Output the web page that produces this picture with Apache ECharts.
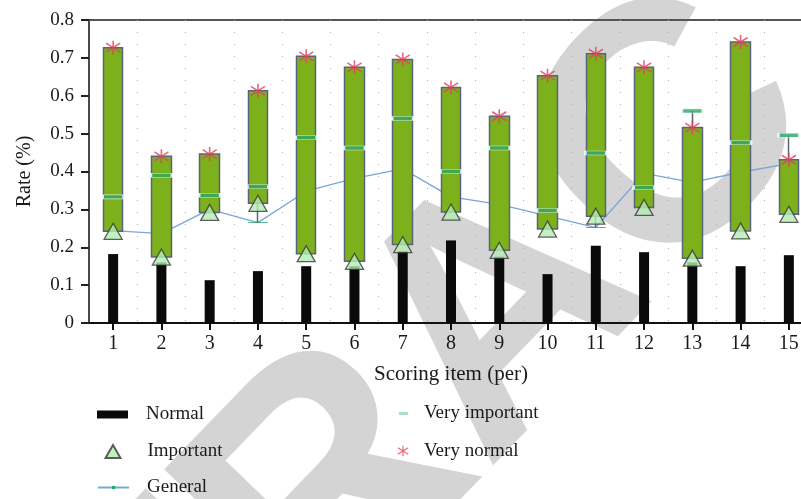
<!DOCTYPE html>
<html>
<head>
<meta charset="utf-8">
<script src="https://cdn.jsdelivr.net/npm/echarts@6/dist/echarts.min.js"></script>
<style>
  html, body { margin: 0; padding: 0; background: #ffffff; overflow: hidden; }
  #chart { width: 813px; height: 499px; }
</style>
</head>
<body>
<div id="chart"></div>
<script>
// Scoring items on the x axis
const categories = ['1', '2', '3', '4', '5', '6', '7', '8', '9', '10', '11', '12', '13', '14', '15'];

// Rate (%) for each rating level
const normal        = [0.182, 0.160, 0.113, 0.137, 0.150, 0.150, 0.190, 0.218, 0.175, 0.129, 0.204, 0.187, 0.160, 0.150, 0.179];
const important     = [0.242, 0.174, 0.292, 0.316, 0.183, 0.163, 0.207, 0.293, 0.192, 0.248, 0.282, 0.305, 0.171, 0.243, 0.287];
const general       = [0.244, 0.236, 0.300, 0.265, 0.348, 0.382, 0.407, 0.333, 0.313, 0.283, 0.252, 0.395, 0.371, 0.398, 0.421];
const veryImportant = [0.333, 0.390, 0.337, 0.360, 0.489, 0.462, 0.540, 0.400, 0.462, 0.297, 0.449, 0.358, 0.560, 0.476, 0.496];
const veryNormal    = [0.727, 0.440, 0.446, 0.613, 0.704, 0.675, 0.696, 0.622, 0.546, 0.653, 0.711, 0.675, 0.516, 0.742, 0.431];

// y axis range
const yMin = 0, yMax = 0.8, yStep = 0.1;

// Up-down bars run from "Important" to "Very normal";
// the high-low line spans the extremes of the four rated series.
const boxData = categories.map((c, i) => {
  const vals = [important[i], general[i], veryImportant[i], veryNormal[i]];
  return [important[i], veryNormal[i], Math.min(...vals), Math.max(...vals)];
});

// Build a filled path out of thin stroked segments (used for the star marker)
function strokePath(segments, w) {
  return 'path://' + segments.map(([x1, y1, x2, y2]) => {
    const dx = x2 - x1, dy = y2 - y1, L = Math.hypot(dx, dy);
    const nx = -dy / L * w / 2, ny = dx / L * w / 2;
    return 'M' + (x1 + nx) + ',' + (y1 + ny) +
           'L' + (x2 + nx) + ',' + (y2 + ny) +
           'L' + (x2 - nx) + ',' + (y2 - ny) +
           'L' + (x1 - nx) + ',' + (y1 - ny) + 'Z';
  }).join('');
}
const starSymbol = strokePath([[7, 0, 7, 14], [0, 2.5, 14, 11.5], [0, 11.5, 14, 2.5]], 1.6);
const dashSymbol = 'path://M0,0H20V4H0Z';

const serif = '"Liberation Serif", "DejaVu Serif", serif';
const textColor = '#1a1a1a';

function legendItem(name, left, top, w, h, pad, extra) {
  return Object.assign({
    data: [name],
    left: left, top: top,
    orient: 'vertical',
    padding: 0,
    itemWidth: w, itemHeight: h,
    selectedMode: false,
    textStyle: { fontFamily: serif, fontSize: 19, color: textColor, lineHeight: 20, padding: [0, 0, 0, pad] }
  }, extra || {});
}

const chart = echarts.init(document.getElementById('chart'), null, { renderer: 'canvas' });

chart.setOption({
  animation: false,
  backgroundColor: '#ffffff',
  graphic: [{
    type: 'text',
    x: 505, y: 318,
    rotation: 46 * Math.PI / 180,
    z: -100,
    silent: true,
    style: {
      text: 'RETRACTED',
      font: 'bold 340px "Liberation Sans", Arial, sans-serif',
      fill: '#d4d4d4',
      align: 'center',
      verticalAlign: 'middle',
      textAlign: 'center',
      textVerticalAlign: 'middle'
    }
  }],
  grid: {
    left: 89, right: 0, top: 20, bottom: 176,
    show: true, borderColor: '#555555', borderWidth: 2, backgroundColor: 'transparent'
  },
  legend: [
    legendItem('Normal', 97, 404.5, 31, 8, 13, { data: [{ name: 'Normal', icon: 'rect' }] }),
    legendItem('Important', 104.5, 441.5, 15, 13, 22),
    legendItem('General', 97, 477.5, 31, 4, 13),
    legendItem('Very important', 399, 403.5, 9, 3, 11, { data: [{ name: 'Very important', icon: 'rect', itemStyle: { color: '#98d8b4', borderWidth: 0 } }] }),
    legendItem('Very normal', 397.5, 441, 11, 12, 10.5)
  ],
  xAxis: {
    type: 'category',
    data: categories,
    name: 'Scoring item (per)',
    nameLocation: 'middle',
    nameGap: 41,
    nameTextStyle: { fontFamily: serif, fontSize: 21, color: textColor },
    axisLine: { show: true, lineStyle: { color: '#111111', width: 2 } },
    axisTick: { show: true, alignWithLabel: true, length: 7, lineStyle: { color: '#111111', width: 2 } },
    axisLabel: { fontFamily: serif, fontSize: 20, color: textColor, margin: 11 },
    splitLine: { show: true, lineStyle: { color: '#aaaaaa', width: 1, type: [1, 11] } }
  },
  yAxis: {
    type: 'value',
    min: yMin, max: yMax, interval: yStep,
    name: 'Rate (%)',
    nameLocation: 'middle',
    nameGap: 54,
    nameRotate: 90,
    nameTextStyle: { fontFamily: serif, fontSize: 20, color: textColor },
    axisLine: { show: true, lineStyle: { color: '#4a4a4a', width: 2 } },
    axisTick: { show: true, length: 8, lineStyle: { color: '#222222', width: 2 } },
    axisLabel: { fontFamily: serif, fontSize: 19, color: textColor, margin: 15 },
    splitLine: { show: false }
  },
  series: [
    {
      name: 'Normal',
      type: 'bar',
      data: normal,
      barWidth: 10,
      z: 2,
      itemStyle: { color: '#0a0a0a' },
      emphasis: { disabled: true }
    },
    {
      name: 'General',
      type: 'line',
      data: general,
      z: 3,
      symbol: dashSymbol,
      symbolSize: [20, 4],
      symbolKeepAspect: true,
      showSymbol: true,
      showAllSymbol: true,
      lineStyle: { color: '#79a6da', width: 1.3 },
      itemStyle: { color: '#2aa866' },
      emphasis: { disabled: true }
    },
    {
      name: 'Range',
      type: 'candlestick',
      data: boxData,
      barWidth: 20,
      z: 4,
      itemStyle: {
        color: '#7cb11c', color0: '#7cb11c',
        borderColor: '#58647a', borderColor0: '#58647a',
        borderWidth: 1.5
      },
      emphasis: { disabled: true }
    },
    {
      name: 'Very important',
      type: 'scatter',
      data: veryImportant,
      z: 5,
      symbol: 'rect',
      symbolSize: [21, 4],
      itemStyle: { color: '#2aa866', borderColor: '#ffffff', borderWidth: 1.2 },
      emphasis: { disabled: true }
    },
    {
      name: 'Important',
      type: 'scatter',
      data: important,
      z: 6,
      symbol: 'triangle',
      symbolSize: [18, 16],
      itemStyle: { color: '#b3ecb3', borderColor: '#383838', borderWidth: 1.3 },
      emphasis: { disabled: true }
    },
    {
      name: 'Very normal',
      type: 'scatter',
      data: veryNormal,
      z: 7,
      symbol: starSymbol,
      symbolSize: [15, 14],
      itemStyle: { color: '#e2405c' },
      emphasis: { disabled: true }
    }
  ]
});
</script>
</body>
</html>
